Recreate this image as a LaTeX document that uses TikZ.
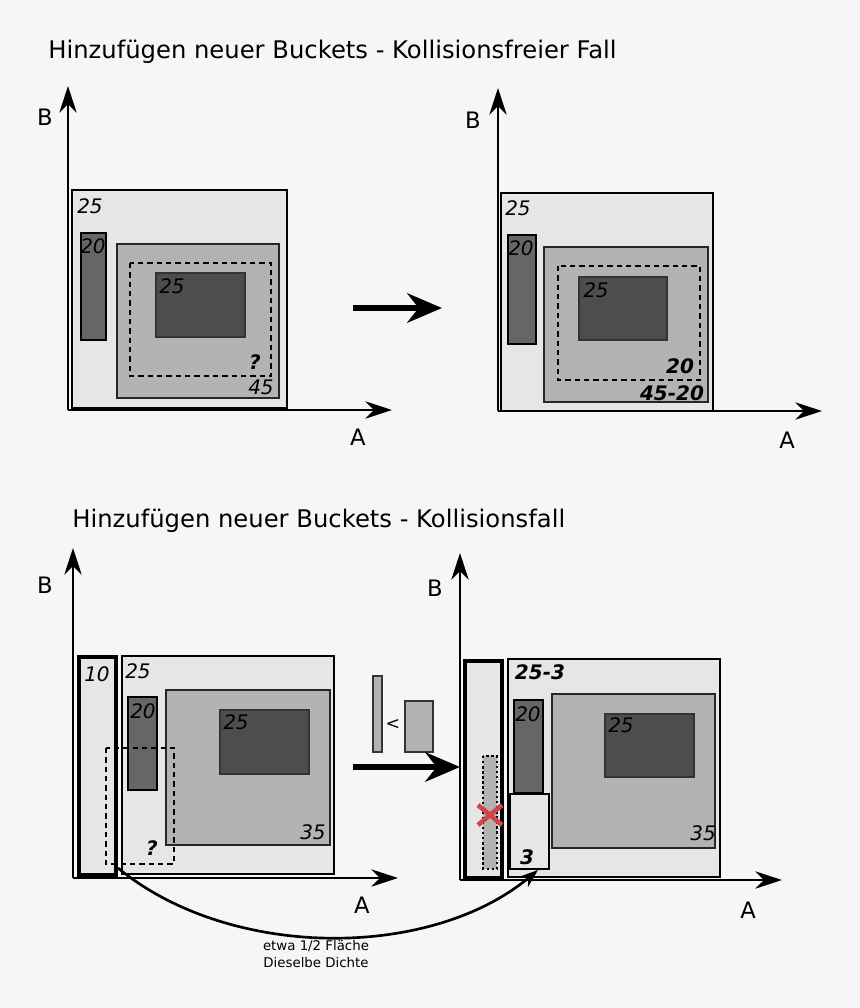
\documentclass[tikz,border=0pt]{standalone}
\usepackage{fontspec}
\setmainfont{DejaVu Sans}
\usetikzlibrary{arrows.meta}
\definecolor{bg}{HTML}{F6F6F6}
\definecolor{lg}{HTML}{E6E6E6}
\definecolor{mg}{HTML}{B3B3B3}
\definecolor{dg}{HTML}{666666}
\definecolor{vdg}{HTML}{4D4D4D}
\definecolor{xred}{HTML}{D04545}
\begin{document}
\begin{tikzpicture}[x=0.75pt,y=-0.75pt,
 box/.style={draw=black,line width=1.6pt,fill=lg},
 midbox/.style={draw=black!85,line width=1.6pt,fill=mg},
 darkbox/.style={draw=black!80,line width=1pt,fill=vdg},
 barbox/.style={draw=black,line width=1.6pt,fill=dg},
 axis/.style={line width=1.3pt,-{Stealth[length=20pt,width=13pt]}},
 bigarrow/.style={line width=4.5pt,-{Stealth[length=26pt,width=22pt]}},
 dsh/.style={dash pattern=on 4pt off 3pt,line width=1.3pt},
 num/.style={font=\fontsize{15}{15}\selectfont\itshape,inner sep=0pt},
 bnum/.style={font=\fontsize{15}{15}\selectfont\bfseries\itshape,inner sep=0pt},
 ax/.style={font=\fontsize{17}{17}\selectfont,inner sep=0pt},
 ttl/.style={font=\fontsize{18.2}{19}\selectfont,inner sep=0pt,anchor=west}]
\fill[bg] (0,0) rectangle (860,1008);
\useasboundingbox (0,0) rectangle (860,1008);
\node[ttl] (t1) at (48,52) {Hinzufügen neuer Buckets - Kollisionsfreier Fall};
\node[ttl] (t2) at (72,521) {Hinzufügen neuer Buckets - Kollisionsfall};
% ---- top left
\coordinate (o1) at (68,410);
\coordinate (b1) at (68,86);
\coordinate (a1) at (392,410);
\draw[axis] (o1) -- (b1);
\draw[axis] (o1) -- (a1);
\node[ax] (B1) at (45,117) {B};
\node[ax] (A1) at (358,437) {A};
\draw[box] (72,190) rectangle (287,408);
\node[num] (n1) at (90,206) {25};
\draw[barbox] (81,233) rectangle (106,340);
\node[num] (n2) at (93,246) {20};
\draw[midbox] (117,244) rectangle (279,398);
\draw[dsh] (130,263) rectangle (271,376);
\draw[darkbox] (156,273) rectangle (245,337);
\node[num] (n3) at (172,286) {25};
\node[bnum] (q1) at (255,362) {?};
\node[num] (n4) at (261,387) {45};
\coordinate (ar1s) at (353,308);
\coordinate (ar1e) at (442,308);
\draw[bigarrow] (ar1s) -- (ar1e);
% ---- top right
\coordinate (o2) at (498,411);
\coordinate (b2) at (498,88);
\coordinate (a2) at (822,411);
\draw[axis] (o2) -- (b2);
\draw[axis] (o2) -- (a2);
\node[ax] (B2) at (473,120) {B};
\node[ax] (A2) at (787,440) {A};
\draw[box] (501,193) rectangle (713,411);
\node[num] (n5) at (518,208) {25};
\draw[barbox] (508,235) rectangle (536,344);
\node[num] (n6) at (521,248) {20};
\draw[midbox] (544,247) rectangle (708,402);
\draw[dsh] (558,266) rectangle (700,380);
\draw[darkbox] (579,277) rectangle (667,340);
\node[num] (n7) at (596,290) {25};
\node[bnum] (n8) at (680,366) {20};
\node[bnum] (n9) at (672,393) {45-20};
% ---- bottom left
\coordinate (o3) at (73,878);
\coordinate (b3) at (73,548);
\coordinate (a3) at (398,878);
\draw[axis] (o3) -- (b3);
\draw[axis] (o3) -- (a3);
\node[ax] (B3) at (45,585) {B};
\node[ax] (A3) at (362,905) {A};
\draw[box,line width=2.6pt] (79,657) rectangle (116,875);
\node[num] (n10) at (97,674) {10};
\draw[box] (122,656) rectangle (334,874);
\node[num] (n11) at (138,671) {25};
\draw[barbox] (128,697) rectangle (157,790);
\node[num] (n12) at (143,711) {20};
\draw[midbox] (166,690) rectangle (330,845);
\draw[darkbox] (220,710) rectangle (309,774);
\node[num] (n13) at (236,722) {25};
\node[num] (n14) at (313,832) {35};
\draw[dsh,line width=1pt] (106,748) rectangle (174,864);
\node[bnum] (q2) at (152,848) {?};
\coordinate (cs) at (118,868);
% middle
\draw[draw=black!80,line width=1pt,fill=mg] (373,676) rectangle (382,752);
\node[font=\fontsize{13}{13}\selectfont,inner sep=0pt] (lt) at (393,724) {<};
\draw[draw=black!80,line width=1pt,fill=mg] (405,701) rectangle (433,752);
\coordinate (ar2s) at (353,767);
\coordinate (ar2e) at (460,767);
\draw[bigarrow] (ar2s) -- (ar2e);
% ---- bottom right
\coordinate (o4) at (460,880);
\coordinate (b4) at (460,553);
\coordinate (a4) at (782,880);
\draw[axis] (o4) -- (b4);
\draw[axis] (o4) -- (a4);
\node[ax] (B4) at (435,588) {B};
\node[ax] (A4) at (748,910) {A};
\draw[box,line width=2.6pt] (465,661) rectangle (502,878);
\draw[dotted,line width=1.8pt,fill=mg] (483,756) rectangle (497,869);
\draw[xred,line width=3.5pt] (478,805) -- (502,825) (478,825) -- (502,805);
\draw[box] (508,659) rectangle (720,877);
\node[bnum] (n15) at (540,672) {25-3};
\draw[barbox] (514,700) rectangle (543,793);
\node[num] (n16) at (528,714) {20};
\draw[draw=black,line width=1.4pt,fill=lg] (510,794) rectangle (549,869);
\node[bnum] (n17) at (527,857) {3};
\draw[midbox] (552,694) rectangle (715,848);
\draw[darkbox] (605,714) rectangle (694,777);
\node[num] (n18) at (621,725) {25};
\node[num] (n19) at (703,833) {35};
\coordinate (ce) at (538,870);
\draw[line width=2pt,-{Stealth[length=14pt,width=10pt]}] (cs) .. controls (230,960) and (430,960) .. (ce);
\node[font=\fontsize{10}{10}\selectfont,inner sep=0pt] (l1) at (316,946) {etwa 1/2 Fläche};
\node[font=\fontsize{10}{10}\selectfont,inner sep=0pt] (l2) at (316,963) {Dieselbe Dichte};
\end{tikzpicture}
\end{document}
